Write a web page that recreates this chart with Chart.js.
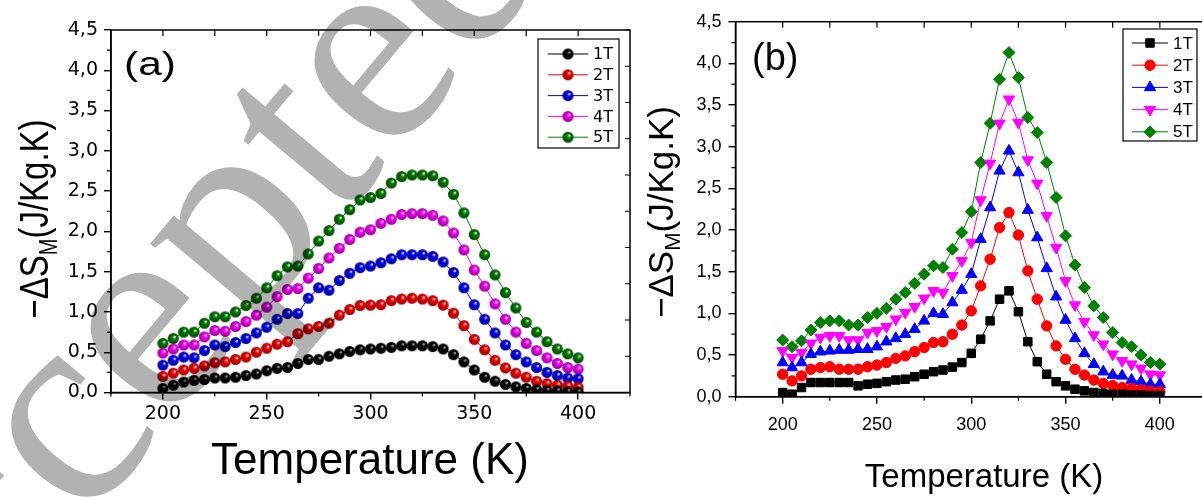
<!DOCTYPE html>
<html>
<head>
<meta charset="utf-8">
<script src="https://cdn.jsdelivr.net/npm/chart.js@4.4.0/dist/chart.umd.min.js"></script>
<style>
  html, body { margin: 0; padding: 0; width: 1202px; height: 500px; overflow: hidden; background: #fff; }
  #wa { position: absolute; left: 0; top: 0; }
  #wb { position: absolute; left: 640px; top: 0; }
  #mark { position: absolute; left: 0; top: 0; pointer-events: none; }
</style>
</head>
<body>
<div id="wa"><canvas id="chartA" width="680" height="500"></canvas></div>
<div id="wb"><canvas id="chartB" width="600" height="500"></canvas></div>
<canvas id="mark" width="1202" height="500"></canvas>
<script>
// temperaturas (K)
const temps = [200,205,210,215,220,225,230,235,240,245,250,255,260,265,270,275,280,285,290,295,
               300,305,310,315,320,325,330,335,340,345,350,355,360,365,370,375,380,385,390,395,400];
const fieldLabels = ['1T', '2T', '3T', '4T', '5T'];
const colors = ['#000000', '#ff0000', '#0000ff', '#ff00ff', '#008000'];
const darkColors = ['#000000', '#900000', '#000090', '#900090', '#004400'];

// panel (a)
const a1T = [0.05,0.09,0.13,0.15,0.16,0.18,0.18,0.19,0.21,0.23,0.27,0.30,0.31,0.36,0.41,0.41,0.45,0.48,0.51,0.53,
             0.54,0.55,0.56,0.58,0.58,0.58,0.57,0.54,0.47,0.38,0.28,0.19,0.14,0.10,0.07,0.05,0.035,0.023,0.019,0.01,0.005];
const a2T = [0.20,0.24,0.28,0.30,0.33,0.37,0.38,0.41,0.44,0.50,0.55,0.60,0.63,0.73,0.79,0.82,0.86,0.96,1.03,1.08,
             1.085,1.09,1.14,1.16,1.17,1.16,1.14,1.085,0.985,0.83,0.66,0.53,0.40,0.305,0.24,0.19,0.14,0.11,0.09,0.08,0.065];
const a3T = [0.34,0.40,0.44,0.43,0.52,0.59,0.57,0.62,0.67,0.74,0.81,0.91,0.98,0.98,1.17,1.30,1.27,1.39,1.48,1.55,
             1.57,1.61,1.66,1.71,1.71,1.71,1.69,1.62,1.49,1.30,1.09,0.91,0.74,0.59,0.47,0.38,0.31,0.25,0.21,0.18,0.17];
const a4T = [0.49,0.54,0.59,0.59,0.69,0.77,0.76,0.82,0.88,0.96,1.06,1.19,1.28,1.29,1.42,1.54,1.67,1.79,1.90,1.99,
             2.02,2.10,2.15,2.21,2.22,2.22,2.20,2.13,1.98,1.77,1.52,1.32,1.10,0.91,0.75,0.61,0.52,0.43,0.36,0.31,0.29];
const a5T = [0.61,0.67,0.75,0.75,0.86,0.94,0.94,1.00,1.08,1.17,1.30,1.45,1.56,1.57,1.72,1.88,2.01,2.15,2.27,2.39,
             2.42,2.47,2.60,2.68,2.70,2.70,2.69,2.61,2.46,2.23,1.96,1.71,1.46,1.24,1.05,0.87,0.75,0.63,0.54,0.48,0.43];

// panel (b)
const b1T = [0.05,0.03,0.11,0.17,0.17,0.17,0.17,0.17,0.13,0.15,0.16,0.18,0.20,0.21,0.24,0.27,0.30,0.32,0.355,0.41,
             0.52,0.69,0.91,1.17,1.27,1.02,0.66,0.42,0.27,0.18,0.13,0.09,0.07,0.05,0.04,0.03,0.03,0.02,0.02,0.015,0.015];
const b2T = [0.27,0.19,0.25,0.33,0.35,0.36,0.33,0.33,0.33,0.36,0.38,0.41,0.46,0.49,0.54,0.59,0.65,0.66,0.75,0.86,
             1.03,1.33,1.65,2.03,2.21,1.94,1.51,1.17,0.85,0.61,0.45,0.33,0.26,0.20,0.16,0.135,0.11,0.10,0.085,0.07,0.06];
const b3T = [0.41,0.35,0.41,0.51,0.54,0.55,0.56,0.56,0.57,0.57,0.60,0.66,0.70,0.75,0.81,0.91,1.00,0.99,1.13,1.28,
             1.47,1.89,2.27,2.71,2.95,2.69,2.24,1.91,1.54,1.20,0.92,0.70,0.52,0.39,0.30,0.26,0.25,0.20,0.18,0.15,0.15];
const b4T = [0.55,0.47,0.53,0.64,0.71,0.73,0.73,0.68,0.68,0.77,0.79,0.84,0.93,1.01,1.08,1.18,1.27,1.25,1.45,1.63,
             1.85,2.36,2.80,3.28,3.57,3.29,2.84,2.56,2.17,1.79,1.39,1.10,0.90,0.74,0.63,0.51,0.43,0.39,0.34,0.27,0.26];
const b5T = [0.68,0.60,0.67,0.80,0.89,0.91,0.91,0.86,0.86,0.95,1.00,1.06,1.17,1.25,1.36,1.47,1.57,1.55,1.77,1.97,
             2.22,2.81,3.28,3.81,4.13,3.83,3.35,3.17,2.81,2.39,1.93,1.58,1.31,1.09,0.95,0.77,0.65,0.60,0.50,0.41,0.39];

// ejes
const xTicks = [200, 250, 300, 350, 400];
const xMinor = [175, 225, 275, 325, 375, 425];
const xTop = [200, 225, 250, 275, 300, 325, 350, 375, 400];
const yTicks = [0, 0.5, 1, 1.5, 2, 2.5, 3, 3.5, 4, 4.5];
const yTickLabels = ['0,0','0,5','1,0','1,5','2,0','2,5','3,0','3,5','4,0','4,5'];
const yMinor = [0.25, 0.75, 1.25, 1.75, 2.25, 2.75, 3.25, 3.75, 4.25];
const rightTicks = [0, 0.5, 1, 1.5, 2, 2.5, 3, 3.5, 4, 4.5, 5]; // eje derecho 0-5

const aSeries = [a1T, a2T, a3T, a4T, a5T];
const bSeries = [b1T, b2T, b3T, b4T, b5T];

// bolitas con brillo para el panel (a)
function makeBall(color, dark, r) {
  const c = document.createElement('canvas');
  const s = Math.ceil(r * 2 + 2);
  c.width = s; c.height = s;
  const g = c.getContext('2d');
  const grad = g.createRadialGradient(s * 0.62, s * 0.36, 0.3, s / 2, s / 2, r);
  grad.addColorStop(0, color === '#000000' ? '#bbbbbb' : '#ffffff');
  grad.addColorStop(0.3, color);
  grad.addColorStop(1, dark);
  g.fillStyle = grad;
  g.beginPath();
  g.arc(s / 2, s / 2, r, 0, Math.PI * 2);
  g.fill();
  return c;
}
const balls = colors.map((c, i) => makeBall(c, darkColors[i], 5.5));

// marcadores panel (b)
const bStyles = ['rect', 'circle', 'triangle', 'triangle', 'rectRot'];
const bRot = [0, 0, 0, 180, 0];
const bRadius = [6, 5.2, 6.5, 6.5, 6];

function toPoints(vals) {
  return temps.map((t, i) => ({ x: t, y: vals[i] }));
}

function drawYTitle(ctx, cx, cy, size, stretch) {
  ctx.save();
  ctx.translate(cx, cy);
  ctx.scale(stretch, 1);
  ctx.rotate(-Math.PI / 2);
  ctx.fillStyle = '#000';
  ctx.textBaseline = 'alphabetic';
  ctx.textAlign = 'left';
  const fam = '"Liberation Sans", Arial, sans-serif';
  ctx.font = size + 'px ' + fam;
  const w1 = ctx.measureText('\u2212\u0394S').width;
  const w3 = ctx.measureText('(J/Kg.K)').width;
  ctx.font = Math.round(size * 0.62) + 'px ' + fam;
  const w2 = ctx.measureText('M').width;
  let x0 = -(w1 + w2 + w3) / 2;
  const base = size * 0.36;
  ctx.font = size + 'px ' + fam;
  ctx.fillText('\u2212\u0394S', x0, base);
  ctx.font = Math.round(size * 0.62) + 'px ' + fam;
  ctx.fillText('M', x0 + w1, base + size * 0.22);
  ctx.font = size + 'px ' + fam;
  ctx.fillText('(J/Kg.K)', x0 + w1 + w2, base);
  ctx.restore();
}

function panelPlugin(p) {
  return {
    id: 'panel' + p.tag,
    afterDraw(chart) {
      const ctx = chart.ctx, a = chart.chartArea;
      const x = chart.scales.x, y = chart.scales.y;
      ctx.save();
      // marco
      ctx.strokeStyle = '#000';
      ctx.lineWidth = 1.5;
      ctx.strokeRect(a.left, a.top, a.right - a.left, a.bottom - a.top);
      // ticks menores y de los otros lados
      ctx.lineWidth = 1.2;
      ctx.beginPath();
      yMinor.forEach(v => { const py = y.getPixelForValue(v); ctx.moveTo(a.left - 4, py); ctx.lineTo(a.left, py); });
      xMinor.forEach(v => { const px = x.getPixelForValue(v); ctx.moveTo(px, a.bottom); ctx.lineTo(px, a.bottom + 4); });
      xTop.forEach(v => { const px = x.getPixelForValue(v); ctx.moveTo(px, a.top); ctx.lineTo(px, a.top + 6); });
      rightTicks.forEach(v => { const py = y.getPixelForValue(v * 0.9); ctx.moveTo(a.right, py); ctx.lineTo(a.right - 5, py); });
      ctx.stroke();

      // titulos
      ctx.fillStyle = '#000';
      ctx.textAlign = 'center';
      ctx.textBaseline = 'middle';
      ctx.font = p.xTitleSize + 'px "Liberation Sans", Arial, sans-serif';
      ctx.fillText('Temperature (K)', p.xTitleX, p.xTitleY);
      drawYTitle(ctx, p.yTitleX, p.yTitleY, p.yTitleSize, p.stretch);

      // etiqueta del panel
      ctx.save();
      ctx.translate(p.tagX, p.tagY);
      ctx.scale(p.stretch, 1);
      ctx.textAlign = 'left';
      ctx.font = p.tagSize + 'px "Liberation Sans", Arial, sans-serif';
      ctx.fillText(p.tag, 0, 0);
      ctx.restore();

      // leyenda
      const L = p.legend;
      ctx.lineWidth = 1.2;
      ctx.strokeStyle = '#000';
      ctx.strokeRect(L.x, L.y, L.w, L.h);
      chart.data.datasets.forEach((ds, i) => {
        const ry = L.row0 + i * L.step;
        ctx.strokeStyle = ds.borderColor;
        ctx.lineWidth = 1;
        ctx.beginPath();
        ctx.moveTo(L.x1, ry); ctx.lineTo(L.x2, ry);
        ctx.stroke();
        ctx.fillStyle = ds.pointBackgroundColor;
        ctx.strokeStyle = ds.pointBorderColor;
        Chart.helpers.drawPoint(ctx, {
          pointStyle: ds.pointStyle, rotation: ds.pointRotation || 0,
          radius: ds.pointRadius, borderWidth: 1
        }, (L.x1 + L.x2) / 2, ry);
        ctx.fillStyle = '#000';
        ctx.textAlign = 'left';
        ctx.textBaseline = 'middle';
        ctx.font = L.font;
        ctx.fillText(ds.label, L.tx, ry + 1);
      });
      ctx.restore();
    }
  };
}

function axisOptions(cfg) {
  return {
    x: {
      type: 'linear', min: 175, max: 425,
      afterBuildTicks: s => { s.ticks = xTicks.map(v => ({ value: v })); },
      afterFit: s => { s.height = cfg.xHeight; },
      grid: { display: true, drawOnChartArea: false, drawTicks: true, tickLength: 7, color: '#000', lineWidth: 1.4 },
      border: { display: true, color: '#000', width: 1.5 },
      ticks: { color: '#000', font: cfg.tickFont, padding: cfg.xPad, maxRotation: 0, autoSkip: false }
    },
    y: {
      type: 'linear', min: 0, max: 4.5,
      afterBuildTicks: s => { s.ticks = yTicks.map(v => ({ value: v })); },
      afterFit: s => { s.width = cfg.yWidth; },
      grid: { display: true, drawOnChartArea: false, drawTicks: true, tickLength: 7, color: '#000', lineWidth: 1.4 },
      border: { display: true, color: '#000', width: 1.5 },
      ticks: {
        color: '#000', font: cfg.tickFont, padding: cfg.yPad, autoSkip: false,
        callback: v => yTickLabels[yTicks.indexOf(v)]
      }
    }
  };
}

// grafica (a)
new Chart(document.getElementById('chartA'), {
  type: 'line',
  data: {
    datasets: aSeries.map((vals, i) => ({
      label: fieldLabels[i],
      data: toPoints(vals),
      borderColor: colors[i],
      borderWidth: 1,
      pointStyle: balls[i],
      pointRadius: 5.5,
      pointBackgroundColor: colors[i],
      pointBorderColor: colors[i],
      tension: 0
    }))
  },
  options: {
    responsive: false,
    animation: false,
    layout: { padding: { left: 0, right: 50, top: 30, bottom: 0 } },
    plugins: { legend: { display: false }, tooltip: { enabled: false } },
    scales: axisOptions({ xHeight: 107.5, yWidth: 111, xPad: 3, yPad: 6,
                          tickFont: { family: '"DejaVu Sans", sans-serif', size: 19 } })
  },
  plugins: [panelPlugin({
    tag: '(a)', tagX: 124, tagY: 66, tagSize: 34, stretch: 1.25,
    xTitleX: 370, xTitleY: 462, xTitleSize: 44,
    yTitleX: 33, yTitleY: 219, yTitleSize: 33,
    legend: { x: 538, y: 39, w: 81, h: 109, row0: 54, step: 20.8, x1: 548, x2: 588, tx: 593,
              font: '16px "DejaVu Sans", sans-serif' }
  })]
});

// grafica (b)
new Chart(document.getElementById('chartB'), {
  type: 'line',
  data: {
    datasets: bSeries.map((vals, i) => ({
      label: fieldLabels[i],
      data: toPoints(vals),
      borderColor: colors[i],
      borderWidth: 1,
      pointStyle: bStyles[i],
      pointRotation: bRot[i],
      pointRadius: bRadius[i],
      pointBorderWidth: 1,
      pointBackgroundColor: colors[i],
      pointBorderColor: colors[i],
      tension: 0
    }))
  },
  options: {
    responsive: false,
    animation: false,
    layout: { padding: { left: 0, right: 33, top: 21.7, bottom: 0 } },
    plugins: { legend: { display: false }, tooltip: { enabled: false } },
    scales: axisOptions({ xHeight: 103.3, yWidth: 95.5, xPad: 11, yPad: 7,
                          tickFont: { family: '"Liberation Sans", Arial, sans-serif', size: 18 } })
  },
  plugins: [panelPlugin({
    tag: '(b)', tagX: 112, tagY: 60, tagSize: 38, stretch: 1,
    xTitleX: 344, xTitleY: 478, xTitleSize: 33,
    yTitleX: 20, yTitleY: 212, yTitleSize: 35,
    legend: { x: 483, y: 29, w: 74, h: 112, row0: 43, step: 22.2, x1: 492, x2: 528, tx: 533,
              font: '17px "Liberation Sans", Arial, sans-serif' }
  })]
});

// marca de agua
const wm = document.getElementById('mark').getContext('2d');
wm.save();
wm.translate(-130, 781);
wm.rotate(-50 * Math.PI / 180);
wm.font = '285px "Liberation Serif", serif';
wm.fillStyle = 'rgba(0,0,0,0.3)';
wm.fillText('Accepted', 0, 0);
wm.restore();
</script>
</body>
</html>
